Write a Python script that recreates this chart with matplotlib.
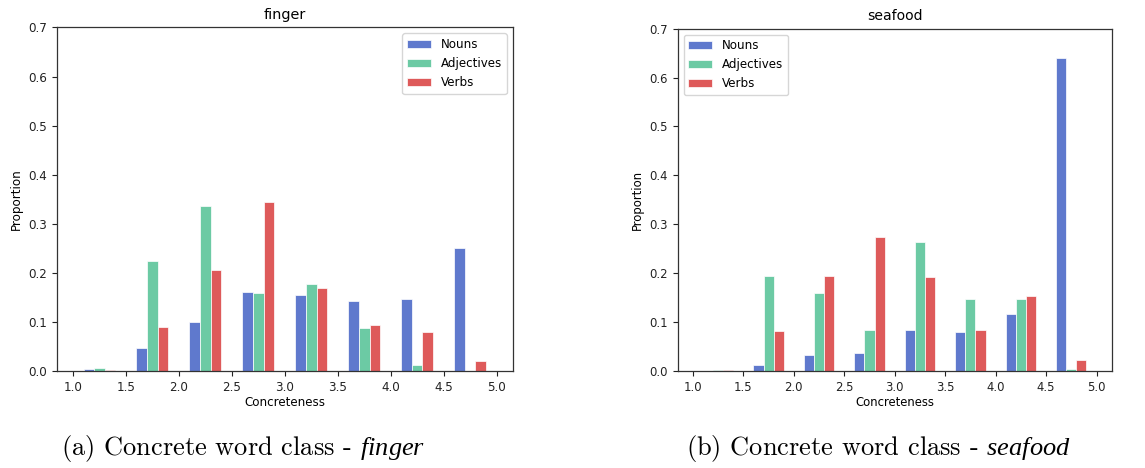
import numpy as np
import matplotlib
matplotlib.use("Agg")
import matplotlib.pyplot as plt

# Concreteness bins (1.0 - 5.0, width 0.5)
bin_edges = [1.0, 1.5, 2.0, 2.5, 3.0, 3.5, 4.0, 4.5, 5.0]
series_names = ["Nouns", "Adjectives", "Verbs"]

# Proportion of words per concreteness bin — "finger"
finger_nouns = [0.004, 0.046, 0.099, 0.160, 0.155, 0.143, 0.147, 0.250]
finger_adjectives = [0.006, 0.224, 0.336, 0.158, 0.177, 0.088, 0.012, 0.000]
finger_verbs = [0.002, 0.090, 0.206, 0.344, 0.170, 0.094, 0.080, 0.020]

# Proportion of words per concreteness bin — "seafood"
seafood_nouns = [0.000, 0.012, 0.033, 0.037, 0.084, 0.080, 0.117, 0.640]
seafood_adjectives = [0.002, 0.194, 0.160, 0.084, 0.264, 0.147, 0.148, 0.004]
seafood_verbs = [0.002, 0.082, 0.194, 0.274, 0.192, 0.084, 0.153, 0.023]

titles = ["finger", "seafood"]
captions = [r"(a) Concrete word class - $\mathit{finger}$",
            r"(b) Concrete word class - $\mathit{seafood}$"]

colors = ["#5f79cd", "#6ccaa4", "#de5a5a"]

plt.rcParams["mathtext.fontset"] = "custom"
plt.rcParams["mathtext.rm"] = "cmr10"
plt.rcParams["mathtext.it"] = "Liberation Serif:italic"

fig = plt.figure(figsize=(11.45, 4.68), dpi=100)

panels = [
    dict(rect=[0.0498, 0.2073, 0.3978, 0.734], fs=8.6, title_fs=10.4,
         data=[finger_nouns, finger_adjectives, finger_verbs],
         legend_loc="upper right", cap_x=243 / 1145, cap_fs=19.0),
    dict(rect=[0.5919, 0.2073, 0.3790, 0.7314], fs=8.4, title_fs=10.1,
         data=[seafood_nouns, seafood_adjectives, seafood_verbs],
         legend_loc="upper left", cap_x=878 / 1145, cap_fs=19.0),
]

edges = np.array(bin_edges)
centers = (edges[:-1] + edges[1:]) / 2

for i, p in enumerate(panels):
    ax = fig.add_axes(p["rect"])
    ax.hist([centers] * 3, bins=edges, weights=p["data"], rwidth=0.6,
            color=colors, label=series_names, edgecolor="white",
            linewidth=0.5)
    ax.set_xlim(0.85, 5.15)
    ax.set_ylim(0, 0.7)
    ax.set_xticks(np.arange(1.0, 5.01, 0.5))
    ax.set_yticks(np.arange(0.0, 0.71, 0.1))
    ax.tick_params(labelsize=p["fs"], colors="#222222", length=3.5, width=0.8)
    ax.set_xlabel("Concreteness", fontsize=p["fs"], labelpad=2)
    ax.set_ylabel("Proportion", fontsize=p["fs"])
    ax.set_title(titles[i], fontsize=p["title_fs"])
    for s in ax.spines.values():
        s.set_linewidth(0.9)
        s.set_color("#333333")
    ax.legend(loc=p["legend_loc"], fontsize=8.6)
    fig.text(p["cap_x"], 1 - 449 / 468, captions[i], fontsize=p["cap_fs"],
             family="cmr10", ha="center", va="center")

fig.savefig("out.png", dpi=100)
